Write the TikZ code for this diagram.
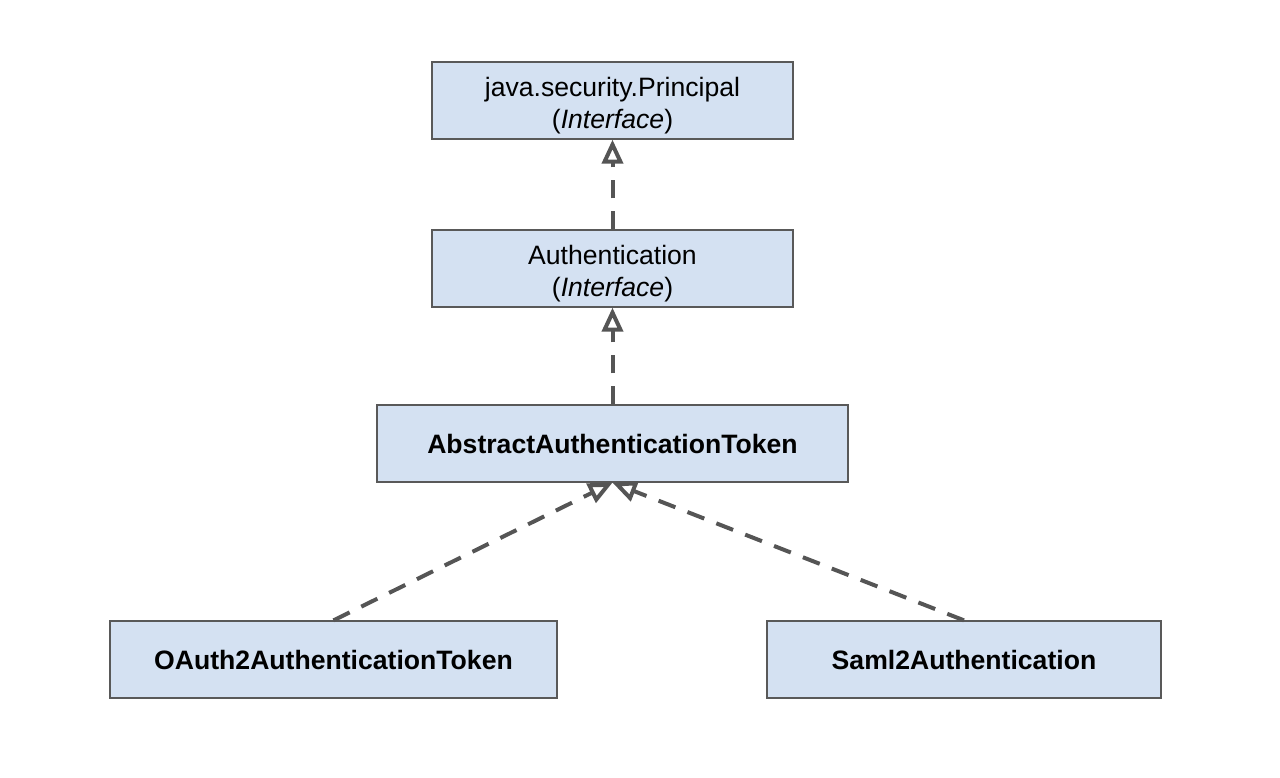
\documentclass[tikz,border=0pt]{standalone}
\usepackage{fontspec}
\setmainfont{Liberation Sans}
\usepackage{xcolor}
\usepackage{tikz}
\usetikzlibrary{arrows.meta, positioning, calc}
\definecolor{boxblue}{HTML}{D4E1F2}
\definecolor{boxline}{HTML}{595959}
\definecolor{depgray}{HTML}{555555}

\begin{document}
\begin{tikzpicture}[x=1pt, y=-1pt]
		\tikzstyle{cls}=[rectangle, draw=boxline, line width=1.3pt, fill=boxblue, minimum height=77pt, inner sep=0pt, align=center, font=\fontsize{26.6}{32}\selectfont, text=black]
		\tikzstyle{dep}=[draw=depgray, line width=4pt, dash pattern=on 18pt off 13pt, -{Triangle[open, length=24pt, width=21pt, line width=4pt]}]
		%%
		\useasboundingbox (0,0) rectangle (1280,778);
		%%
		\node (prin) at (612.5,100.5) [cls, minimum width=361pt] {\rule{0pt}{30pt}java.security.Principal\\(\textit{Interface})};
		\node (auth) at (612.5,268.5) [cls, minimum width=361pt] {\rule{0pt}{30pt}Authentication\\(\textit{Interface})};
		\node (abst) at (612.5,443.5) [cls, minimum width=471pt] {\textbf{AbstractAuthenticationToken}};
		\node (oauth) at (333.5,659.5) [cls, minimum width=447pt] {\textbf{OAuth2AuthenticationToken}};
		\node (saml) at (964,659.5) [cls, minimum width=394pt] {\textbf{Saml2Authentication}};
		
		\draw [dep] (auth.north) -- (prin.south);
		\draw [dep] (abst.north) -- (auth.south);
		\draw [dep] (oauth.north) -- (abst.south);
		\draw [dep] (saml.north) -- (abst.south);
		\end{tikzpicture}
\end{document}
